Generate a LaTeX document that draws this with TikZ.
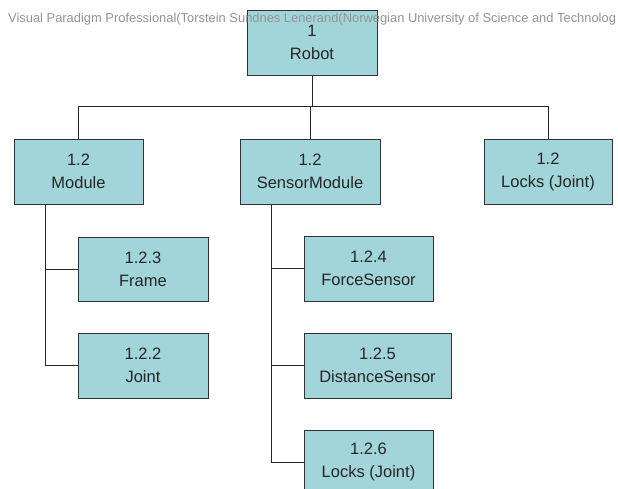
\documentclass[tikz,border=0pt]{standalone}
\usepackage{fontspec}
\setmainfont{Liberation Sans}
\usetikzlibrary{calc}
\begin{document}
\begin{tikzpicture}[x=1pt,y=-1pt,
  wbs/.style={draw=black!80,line width=1pt,fill=boxfill,text=black!85,
    align=center,font=\fontsize{16.5}{23}\selectfont,inner sep=0pt},
  link/.style={draw=black!85,line width=0.9pt}]
\definecolor{boxfill}{RGB}{161,213,218}
\clip (0,0) rectangle (618,488);
\useasboundingbox (0,0) rectangle (618,488);
\fill[white] (0,0) rectangle (618,488);

% work breakdown boxes
\node[wbs,minimum width=130,minimum height=65] (robot) at (312,42.5) {1\\Robot};
\node[wbs,minimum width=129,minimum height=65] (module) at (78.5,171.5) {1.2\\Module};
\node[wbs,minimum width=140,minimum height=65] (sensor) at (310,171.5) {1.2\\SensorModule};
\node[wbs,minimum width=128,minimum height=65] (locks) at (548,171.5) {1.2\\Locks (Joint)};
\node[wbs,minimum width=130,minimum height=64] (frame) at (143,269) {1.2.3\\Frame};
\node[wbs,minimum width=130,minimum height=65] (joint) at (143,365.5) {1.2.2\\Joint};
\node[wbs,minimum width=129,minimum height=65] (force) at (368.5,268.5) {1.2.4\\ForceSensor};
\node[wbs,minimum width=147,minimum height=65] (dist) at (377.5,365.5) {1.2.5\\DistanceSensor};
\node[wbs,minimum width=129,minimum height=64] (lockj) at (368.5,462) {1.2.6\\Locks (Joint)};

% top level bus
\coordinate (bus) at ($(robot.south)+(0,31)$);
\draw[link] (robot.south) -- (bus);
\draw[link] (bus) -| (module.north);
\draw[link] (bus) -| (sensor.north);
\draw[link] (bus) -| (locks.north);

% child trunks
\coordinate (trunkA) at ($(module.south west)+(32,0)$);
\coordinate (trunkB) at ($(sensor.south west)+(32,0)$);
\draw[link] (trunkA) |- (frame.west);
\draw[link] (trunkA) |- (joint.west);
\draw[link] (trunkB) |- (force.west);
\draw[link] (trunkB) |- (dist.west);
\draw[link] (trunkB) |- (lockj.west);

% watermark
\node[anchor=west,inner sep=0pt,text=black!42,font=\fontsize{12.9}{15}\selectfont] (wm) at (8,19)
  {Visual Paradigm Professional(Torstein Sundnes Lenerand(Norwegian University of Science and Technolog};
\end{tikzpicture}
\end{document}
